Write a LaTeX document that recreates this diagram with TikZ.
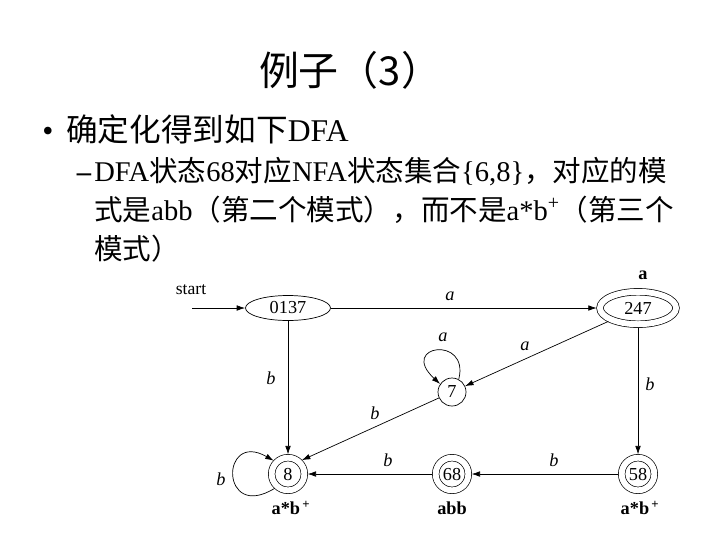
\documentclass[tikz,border=0pt]{standalone}
\usepackage{fontspec}
\setmainfont{Liberation Serif}
\newfontfamily\cjk{Noto Sans CJK SC}
\usetikzlibrary{shapes.geometric,arrows.meta}

\begin{document}
\begin{tikzpicture}[x=0.025cm,y=-0.025cm,line width=0.5pt,
  >={Latex[length=6pt,width=4pt]},
  dfastate/.style={draw,inner sep=0pt,font=\fontsize{13}{15}\selectfont},
  accstate/.style={dfastate,double,double distance=4.2pt,outer sep=2.35pt},
  edgelbl/.style={inner sep=1pt,font=\fontsize{13}{15}\selectfont\itshape},
  patlbl/.style={inner sep=1pt,font=\fontsize{13}{15}\selectfont\bfseries}]

\useasboundingbox (0,0) rectangle (720,540);

%   texto
\node (title) at (350,70) {\cjk\fontsize{28.4}{34}\selectfont 例子（3）};
\node[anchor=base,inner sep=0pt] (bullet) at (48,141) {\fontsize{22.5}{27}\selectfont\textbullet};
\node[anchor=base west,inner sep=0pt] (item) at (66,141)
  {\fontsize{22.5}{27}\selectfont{\cjk 确定化得到如下}DFA};
\node[anchor=base,inner sep=0pt] (dash) at (84,181) {\fontsize{20.3}{24}\selectfont\bfseries –};
\node[anchor=base west,inner sep=0pt] (sub1) at (94,181)
  {\fontsize{20.3}{24}\selectfont DFA{\cjk 状态}68{\cjk 对应}NFA{\cjk 状态集合}\{6,8\}{\cjk ，对应的模}};
\node[anchor=base west,inner sep=0pt] (sub2) at (94,220)
  {\fontsize{20.3}{24}\selectfont{\cjk 式是}abb{\cjk （第二个模式），而不是}a*b\textsuperscript{+}{\cjk （第三个}};
\node[anchor=base west,inner sep=0pt] (sub3) at (94,259)
  {\fontsize{20.3}{24}\selectfont{\cjk 模式）}};

%   estados
\coordinate (start) at (192,308);
\node[font=\fontsize{12.5}{14}\selectfont] (starttxt) at (191,290) {start};
\node[dfastate,ellipse,minimum width=2.125cm,minimum height=0.625cm] (s0137) at (288,308) {0137};
\node[accstate,ellipse,minimum width=1.9cm,minimum height=0.81cm] (s247) at (638,308) {247};
\node[dfastate,circle,minimum size=0.7cm] (s7) at (452,392) {7};
\node[accstate,circle,minimum size=0.815cm] (s8) at (288,474) {8};
\node[accstate,circle,minimum size=0.815cm] (s68) at (452,474) {68};
\node[accstate,circle,minimum size=0.815cm] (s58) at (638,474) {58};

\node[patlbl] (p247) at (643,275) {a};
\node[patlbl] (p8) at (291,508) {a*b\textsuperscript{\,+}};
\node[patlbl] (p68) at (452,508) {abb};
\node[patlbl] (p58) at (640,508) {a*b\textsuperscript{\,+}};

%   flechas
\draw[->] (start) -- (s0137);
\draw[->] (s0137) -- (s247);
\draw[->] (s0137) -- (s8);
\draw[->] (s247) -- (s7);
\draw[->] (s7.62) .. controls (470,335) and (398,345) .. (s7.146);
\draw[->] (s7) -- (s8.45);
\draw[->] (s8.227) .. controls (220,522) and (220,430) .. (s8.137);
\draw[->] (s68) -- (s8);
\draw[->] (s58) -- (s68);
\draw[->] (s247) -- (s58);

\node[edgelbl] (la1) at (450,296) {a};
\node[edgelbl] (lb1) at (271,378) {b};
\node[edgelbl] (la2) at (525,346) {a};
\node[edgelbl] (la3) at (443,337) {a};
\node[edgelbl] (lb2) at (375,413) {b};
\node[edgelbl] (lb3) at (221,479) {b};
\node[edgelbl] (lb4) at (388,460) {b};
\node[edgelbl] (lb5) at (554,460) {b};
\node[edgelbl] (lb6) at (650,384) {b};
\end{tikzpicture}
\end{document}
